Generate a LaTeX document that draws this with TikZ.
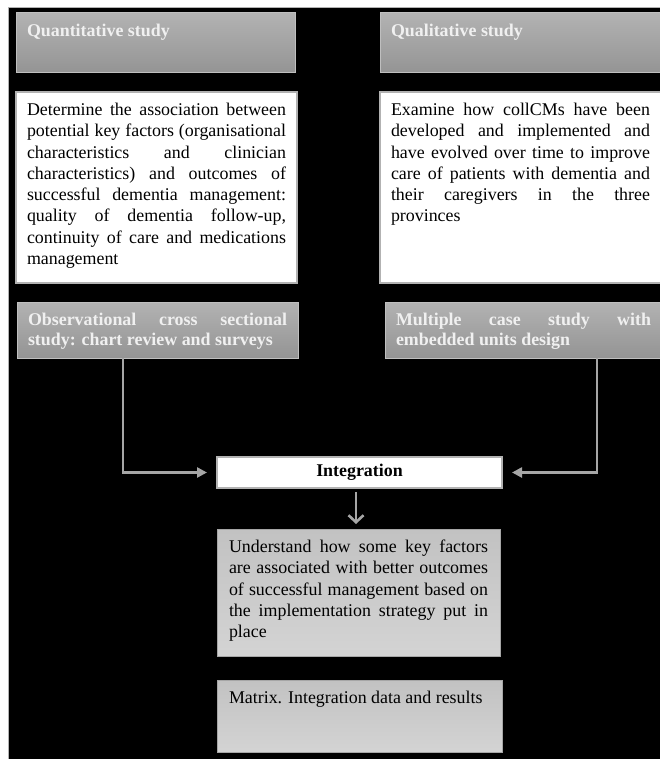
\documentclass[tikz,border=0pt]{standalone}
\usepackage{fontspec}
\setmainfont{Liberation Serif}
\usetikzlibrary{arrows.meta}
\newcommand{\bodyfont}{\fontsize{17.9}{21.3}\selectfont\hyphenpenalty=10000}
\newcommand{\headfont}{\fontsize{17.9}{20}\selectfont\bfseries\hyphenpenalty=10000}
\newcommand{\boxtext}[3]{\parbox[t][#2][t]{#1}{#3}}

\begin{document}
\begin{tikzpicture}[x=1pt,y=-1pt,
	every node/.style={anchor=north west,inner sep=11pt,outer sep=0pt},
	headbox/.style={draw=black!25,line width=1pt,
		top color=black!30,bottom color=black!42,
		text=white!94!black,font=\headfont},
	whitebox/.style={draw=black!30,line width=1.2pt,fill=white,font=\bodyfont},
	resbox/.style={draw=black!35,line width=1pt,
		top color=black!24,bottom color=black!17,font=\bodyfont},
	flowarrow/.style={draw=black!35,line width=2.6pt,
		-{Triangle[length=10pt,width=10pt]}},
	downarrow/.style={draw=black!35,line width=2.6pt,
		-{Straight Barb[length=7pt,width=15pt,line width=2.6pt]}}]
	\useasboundingbox (0,0) rectangle (660,759);
	\fill[white] (0,0) rectangle (660,759);
	\fill[black,draw=black!30,line width=1pt] (8,8) rectangle (661,760);
	
	% study headers
	\node[headbox] (quanthead) at (16,13) {\boxtext{257pt}{38pt}{Quantitative study}};
	\node[headbox] (qualhead) at (380,13) {\boxtext{259pt}{38pt}{Qualitative study}};
	
	% objectives
	\node[whitebox] (quantaim) at (16,92) {\boxtext{259pt}{169pt}{%
		Determine the association between\linebreak
		potential key factors (organisational\linebreak
		characteristics and clinician\linebreak
		characteristics) and outcomes of\linebreak
		successful dementia management:\linebreak
		quality of dementia follow-up,\linebreak
		continuity of care and medications\linebreak
		management}};
	\node[whitebox] (qualaim) at (380,92) {\boxtext{259pt}{169pt}{%
		Examine how collCMs have been\linebreak
		developed and implemented and\linebreak
		have evolved over time to improve\linebreak
		care of patients with dementia and\linebreak
		their caregivers in the three\linebreak
		provinces}};
	
	% designs
	\node[headbox] (obsbox) at (17,302) {\boxtext{259pt}{34pt}{%
		Observational cross sectional\linebreak
		study: chart review and surveys}};
	\node[headbox] (multbox) at (385,302) {\boxtext{255pt}{34pt}{%
		Multiple case study with\linebreak
		embedded units design}};
	
	% integration
	\node[whitebox,font=\bodyfont\bfseries,anchor=center,inner sep=0pt,
		minimum width=285pt,minimum height=31pt] (integ) at (359.5,472.5) {Integration};
	
	\node[resbox,inner xsep=12pt] (underbox) at (217,529) {\boxtext{259pt}{105pt}{%
		Understand how some key factors\linebreak
		are associated with better outcomes\linebreak
		of successful management based on\linebreak
		the implementation strategy put in\linebreak
		place}};
	\node[resbox,inner xsep=12pt] (matrixbox) at (217,680) {\boxtext{261pt}{50pt}{%
		Matrix. Integration data and results}};
	
	% connectors
	\draw[flowarrow,shorten >=10pt] ([xshift=-34.5pt]obsbox.south) |- (integ.west);
	\draw[flowarrow,shorten >=10pt] ([xshift=73.5pt]multbox.south) |- (integ.east);
	\draw[downarrow,shorten <=4pt,shorten >=5pt] ([xshift=-3.5pt]integ.south) -- ([xshift=-3.5pt]integ.south |- underbox.north);
\end{tikzpicture}
\end{document}
